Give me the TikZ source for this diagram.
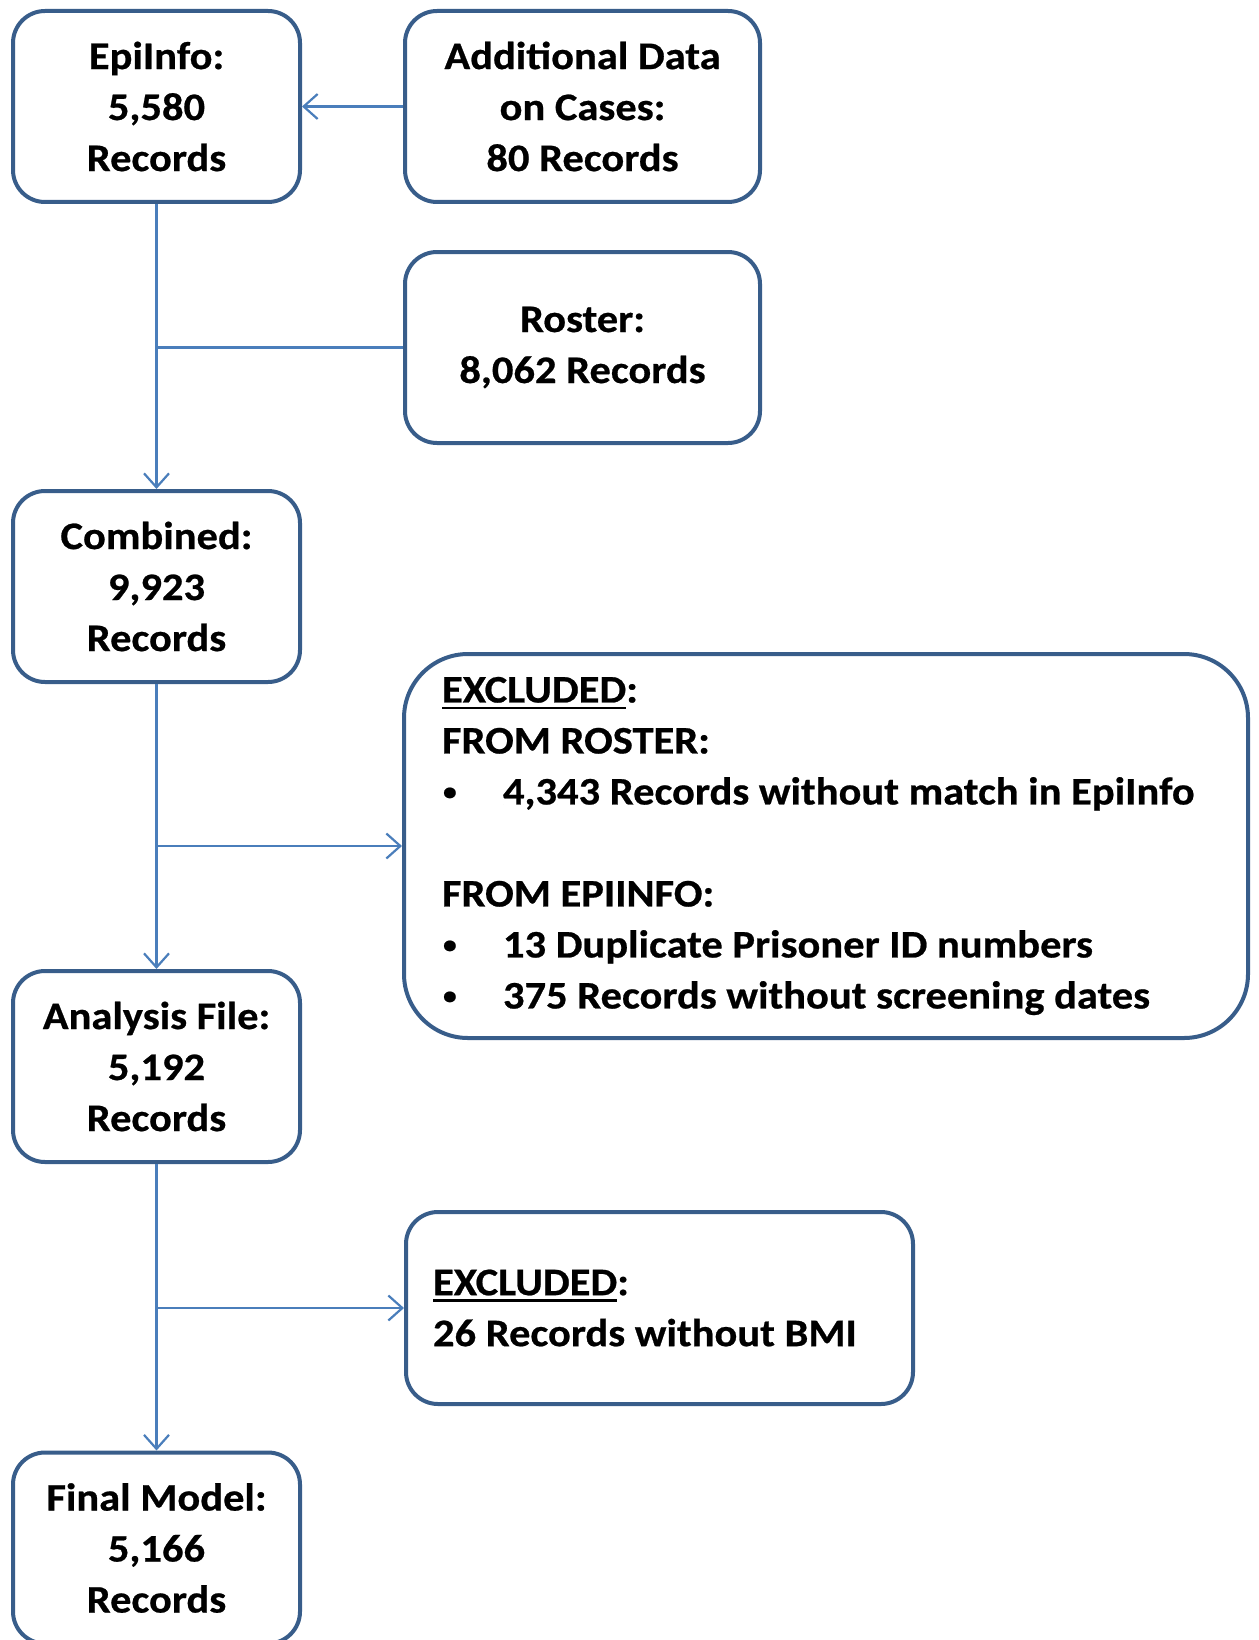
\documentclass[tikz,border=0pt]{standalone}
\usepackage{fontspec}
\usepackage{graphicx}
\setmainfont{Carlito}[FakeStretch=1.09, BoldFeatures={FakeBold=0.6}]
\usetikzlibrary{arrows.meta}
\definecolor{boxblue}{RGB}{56,93,138}
\definecolor{linkblue}{RGB}{74,126,187}
\newcommand\myul[1]{\setbox0\hbox{#1}\rlap{\rule[-7pt]{\wd0}{2.8pt}}\box0}
\newcommand\mybul{\makebox[61pt][l]{\hspace{1pt}\raisebox{4.5pt}{\scalebox{0.65}{•}}}}
\begin{document}
\begin{tikzpicture}[x=1pt,y=-1pt,
  box/.style={draw=boxblue, fill=white, line width=4pt, rounded corners=32pt, inner sep=0pt,
    align=flush center, font=\fontsize{39}{51}\selectfont\bfseries},
  small/.style={box, minimum width=287pt, minimum height=191pt},
  wide/.style={box, minimum width=355pt, minimum height=191pt},
  link/.style={draw=linkblue, line width=2.2pt},
  arr/.style={link, -{Straight Barb[length=14pt,width=25pt]}}]
\clip (0,0) rectangle (1258,1640);
\fill[white] (0,0) rectangle (1258,1640);
\node[small] (epi) at (156.5,106.5) {EpiInfo:\\5,580\\Records};
\node[wide] (add) at (582.5,106.5) {Additional Data\\on Cases:\\80 Records};
\node[wide] (roster) at (582.5,347.5) {Roster:\\8,062 Records};
\node[small] (comb) at (156.5,586.5) {Combined:\\9,923\\Records};
\node[box, rounded corners=64pt, minimum width=844pt, minimum height=384pt,
  text width=768pt, inner xsep=38pt, align=flush left] (ex1) at (826,846)
  {\myul{EXCLUDED}:\\
   FROM ROSTER:\\
   \mbox{\mybul 4,343 Records without match in EpiInfo}\\[51pt]
   FROM EPIINFO:\\
   \mbox{\mybul 13 Duplicate Prisoner ID numbers}\\
   \mbox{\mybul 375 Records without screening dates}};
\node[small] (ana) at (156.5,1066.5) {Analysis File:\\5,192\\Records};
\node[box, minimum width=507pt, minimum height=192pt, text width=453pt, inner xsep=27pt,
  align=flush left] (ex2) at (659.5,1308) {\myul{EXCLUDED}:\\\mbox{26 Records without BMI}};
\node[small] (fin) at (156.5,1548) {Final Model:\\5,166\\Records};
\draw[arr] (add.west) -- (epi.east);
\draw[arr] (epi.south) -- (comb.north);
\draw[link] (roster.west) -- (roster.west -| epi.south);
\draw[arr] (comb.south) -- (ana.north);
\coordinate (j1) at (comb.south |- ex1.west);
\draw[arr] (j1) -- (ex1.west);
\draw[arr] (ana.south) -- (fin.north);
\coordinate (j2) at (ana.south |- ex2.west);
\draw[arr] (j2) -- (ex2.west);
\end{tikzpicture}
\end{document}
